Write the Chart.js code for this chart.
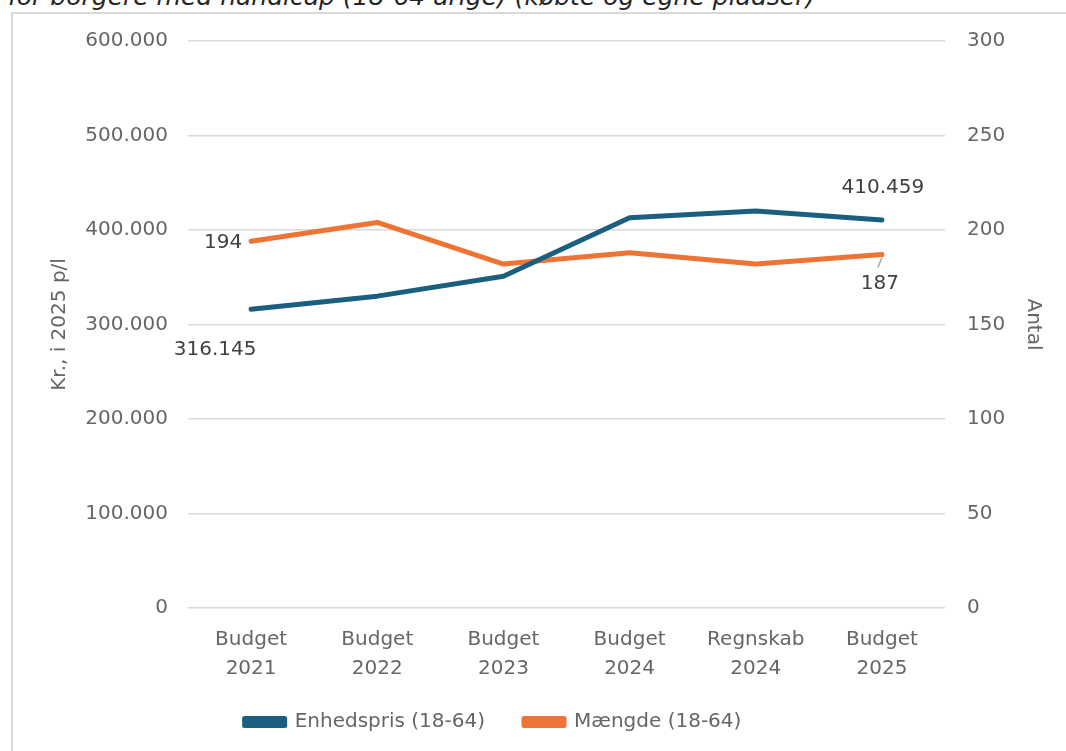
<!DOCTYPE html>
<html>
<head>
<meta charset="utf-8">
<script src="https://cdn.jsdelivr.net/npm/chart.js@4"></script>
<style>
  body { margin: 0; background: #fff; overflow: hidden; }
  #wrap { position: relative; width: 1066px; height: 751px; overflow: hidden; }
  #frame { position: absolute; left: 11px; top: 12px; width: 1080px; height: 780px; border: 2px solid #d9d9d9; box-sizing: border-box; }
  #title { position: absolute; left: 8px; top: -16px; font: italic 25px "DejaVu Sans", sans-serif; color: #262626; white-space: nowrap; line-height: 25px; }
  canvas { position: absolute; left: 0; top: 0; }
</style>
</head>
<body>
<div id="wrap">
  <div id="frame"></div>
  <div id="title">for borgere med handicap (18-64 årige) (købte og egne pladser)</div>
  <canvas id="chart" width="1066" height="751"></canvas>
</div>
<script>
// kategorier og værdier
const categories = [['Budget', '2021'], ['Budget', '2022'], ['Budget', '2023'], ['Budget', '2024'], ['Regnskab', '2024'], ['Budget', '2025']];
const enhedspris = [316145, 330000, 351000, 413000, 420000, 410459];
const maengde = [194, 204, 182, 188, 182, 187];
const leftTicks = [0, 100000, 200000, 300000, 400000, 500000, 600000];
const rightTicks = [0, 50, 100, 150, 200, 250, 300];

const FONT = '"DejaVu Sans", sans-serif';
const fmt = v => String(Math.round(v)).replace(/\B(?=(\d{3})+(?!\d))/g, '.');

// hvilke punkter der har en værdi-label (offset i px fra punktet)
const shownLabels = [
  { ds: 0, i: 0, dx: -36, dy: 41 },
  { ds: 0, i: 5, dx: 1, dy: -32 },
  { ds: 1, i: 0, dx: -28, dy: 1 },
  { ds: 1, i: 5, dx: -2, dy: 29, leader: true }
];

const valueLabels = {
  id: 'valueLabels',
  afterDatasetsDraw(chart) {
    const ctx = chart.ctx;
    ctx.save();
    ctx.font = '20px ' + FONT;
    ctx.fillStyle = '#404040';
    ctx.textAlign = 'center';
    ctx.textBaseline = 'middle';
    shownLabels.forEach(l => {
      const pt = chart.getDatasetMeta(l.ds).data[l.i];
      const v = chart.data.datasets[l.ds].data[l.i];
      if (l.leader) {
        ctx.strokeStyle = '#a6a6a6';
        ctx.lineWidth = 1.5;
        ctx.beginPath();
        ctx.moveTo(pt.x, pt.y + 3);
        ctx.lineTo(pt.x - 4, pt.y + 13);
        ctx.stroke();
      }
      ctx.fillText(fmt(v), pt.x + l.dx, pt.y + l.dy);
    });
    ctx.restore();
  }
};

// flyt legenden lidt op og til venstre som i originalen
const legendShift = {
  id: 'legendShift',
  afterLayout(chart) {
    const lg = chart.legend;
    const dy = 673 - lg.top;
    lg.top += dy; lg.bottom += dy;
    lg.left -= 40; lg.right -= 40;
  }
};

const tickFont = { family: FONT, size: 20 };

const ctx = document.getElementById('chart').getContext('2d');
new Chart(ctx, {
  type: 'line',
  data: {
    labels: categories,
    datasets: [{
      label: 'Enhedspris (18-64)',
      data: enhedspris,
      yAxisID: 'y',
      borderColor: '#1b5f80',
      backgroundColor: '#1b5f80',
      borderWidth: 5,
      borderCapStyle: 'round',
      borderJoinStyle: 'round',
      pointRadius: 0,
      tension: 0
    }, {
      label: 'Mængde (18-64)',
      data: maengde,
      yAxisID: 'y1',
      borderColor: '#ed7434',
      backgroundColor: '#ed7434',
      borderWidth: 5,
      borderCapStyle: 'round',
      borderJoinStyle: 'round',
      pointRadius: 0,
      tension: 0
    }]
  },
  options: {
    responsive: false,
    animation: false,
    layout: { padding: { top: 41, bottom: 0, left: 0, right: 0 } },
    plugins: {
      tooltip: { enabled: false },
      legend: {
        position: 'bottom',
        maxHeight: 60,
        labels: {
          boxWidth: 40,
          boxHeight: 7,
          padding: 39,
          color: '#666666',
          font: { family: FONT, size: 20 }
        }
      }
    },
    scales: {
      x: {
        offset: true,
        grid: { display: false },
        border: { display: false },
        ticks: { color: '#666666', font: { family: FONT, size: 20, lineHeight: 1.45 }, padding: 9, maxRotation: 0 },
        afterFit: s => { s.height = 83; }
      },
      y: {
        position: 'left',
        min: 0,
        max: 600000,
        afterBuildTicks: s => { s.ticks = leftTicks.map(v => ({ value: v })); },
        ticks: { color: '#666666', font: tickFont, padding: 20, callback: v => fmt(v) },
        grid: { color: '#d9d9d9', lineWidth: 1.5, drawTicks: false },
        border: { display: false },
        title: { display: true, text: 'Kr., i 2025 p/l', color: '#666666', font: tickFont, padding: { top: 48, bottom: 0 } },
        afterFit: s => { s.width = 188; }
      },
      y1: {
        position: 'right',
        min: 0,
        max: 300,
        afterBuildTicks: s => { s.ticks = rightTicks.map(v => ({ value: v })); },
        ticks: { color: '#666666', font: tickFont, padding: 22 },
        grid: { drawOnChartArea: false, drawTicks: false },
        border: { display: false },
        title: { display: true, text: 'Antal', color: '#666666', font: tickFont, padding: { top: 21, bottom: 0 } },
        afterFit: s => { s.width = 121; }
      }
    }
  },
  plugins: [valueLabels, legendShift]
});
</script>
</body>
</html>
